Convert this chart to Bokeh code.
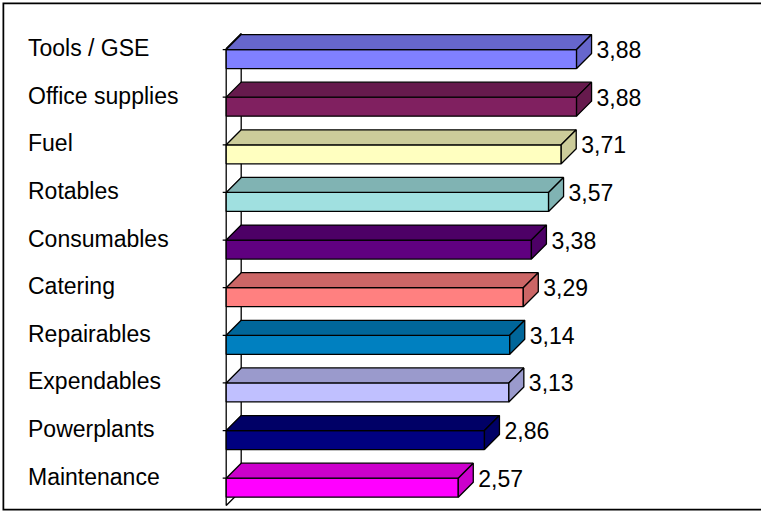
from bokeh.plotting import figure
from bokeh.models import Range1d, ColumnDataSource
from bokeh.embed import file_html
from bokeh.resources import INLINE
from bokeh.core.properties import value

# ---- data ----
categories = ["Tools / GSE", "Office supplies", "Fuel", "Rotables", "Consumables",
              "Catering", "Repairables", "Expendables", "Powerplants", "Maintenance"]
values = [3.88, 3.88, 3.71, 3.57, 3.38, 3.29, 3.14, 3.13, 2.86, 2.57]
front_colors = ["#8080FF", "#802060", "#FFFFC0", "#A0E0E0", "#600080",
                "#FF8080", "#0080C0", "#C0C0FF", "#000080", "#FF00FF"]
shade_colors = ["#6666CC", "#661A4D", "#CCCC9A", "#80B3B3", "#4D0066",
                "#CC6666", "#00669A", "#9A9ACC", "#000066", "#CC00CC"]

# ---- layout (pixels -> data units) ----
W, H = 761, 512
MB_L, MB_T, MB_R, MB_B = 2, 2, 0, 2
FW = W - MB_L - MB_R
FH = H - MB_T - MB_B
PX_X = 90.3      # px per value unit
PX_Y = 47.63     # px per category step
X0 = 225.7 - MB_L   # px of value 0 from left of frame
Y0 = 487.2 - MB_T   # px of last category centre from top of frame
x_start = -X0 / PX_X
x_end = (FW - X0) / PX_X
y_start = -(FH - Y0) / PX_Y
y_end = y_start + FH / PX_Y

DX = 15 / PX_X
DY = 15 / PX_Y
HALF = 9.5 / PX_Y

n = len(categories)
pos = [n - 1 - i for i in range(n)]

p = figure(width=W, height=H, x_range=Range1d(x_start, x_end),
           y_range=Range1d(y_start, y_end), output_backend="svg",
           toolbar_location=None,
           min_border_left=MB_L, min_border_top=MB_T,
           min_border_right=MB_R, min_border_bottom=MB_B,
           x_axis_location=None, y_axis_location=None)
p.grid.visible = False
p.outline_line_color = None
p.background_fill_color = "white"
p.border_fill_color = "white"

# chart-area border (left, top, bottom; right edge lies outside the picture)
p.line([x_end + 1, x_start, x_start, x_end + 1], [y_end, y_end, y_start, y_start],
       line_color="black", line_width=3.5)

# side wall
wall_top = pos[0] + HALF + 1 / PX_Y
wall_bot = -17.8 / PX_Y
p.patch([0, DX, DX, 0], [wall_bot, wall_bot + DY, wall_top + DY, wall_top],
        fill_color="white", line_color="black", line_width=1.3)
# small ticks on the front edge
tick_y = [y + HALF for y in pos]
p.segment(x0=[0] * n, y0=tick_y, x1=[-3.5 / PX_X] * n, y1=tick_y,
          line_color="black", line_width=1.2)

# bars
bottoms = [y - HALF for y in pos]
tops = [y + HALF for y in pos]
front = ColumnDataSource(dict(left=[0] * n, right=values, bottom=bottoms, top=tops,
                              color=front_colors))
p.quad(left="left", right="right", bottom="bottom", top="top", source=front,
       fill_color="color", line_color="black", line_width=1.3)

top_xs = [[0, DX, v + DX, v] for v in values]
top_ys = [[t, t + DY, t + DY, t] for t in tops]
side_xs = [[v, v + DX, v + DX, v] for v in values]
side_ys = [[b, b + DY, t + DY, t] for b, t in zip(bottoms, tops)]
p.patches(top_xs, top_ys, fill_color=shade_colors, line_color="black", line_width=1.3)
p.patches(side_xs, side_ys, fill_color=shade_colors, line_color="black", line_width=1.3)

# value labels
val_text = [f"{v:.2f}".replace(".", ",") for v in values]
p.text(x=[v + DX + 5 / PX_X for v in values], y=[y + 9.5 / PX_Y for y in pos],
       text=val_text, text_font=value("Liberation Sans"), text_font_size="23px",
       text_align="left", text_baseline="middle", text_color="black")

# category labels
p.text(x=[x_start + (27.5 - MB_L) / PX_X] * n, y=[y + 11 / PX_Y for y in pos],
       text=categories, text_font=value("Liberation Sans"), text_font_size="23px",
       text_align="left", text_baseline="middle", text_color="black")

open("out.html", "w").write(file_html(p, INLINE))
